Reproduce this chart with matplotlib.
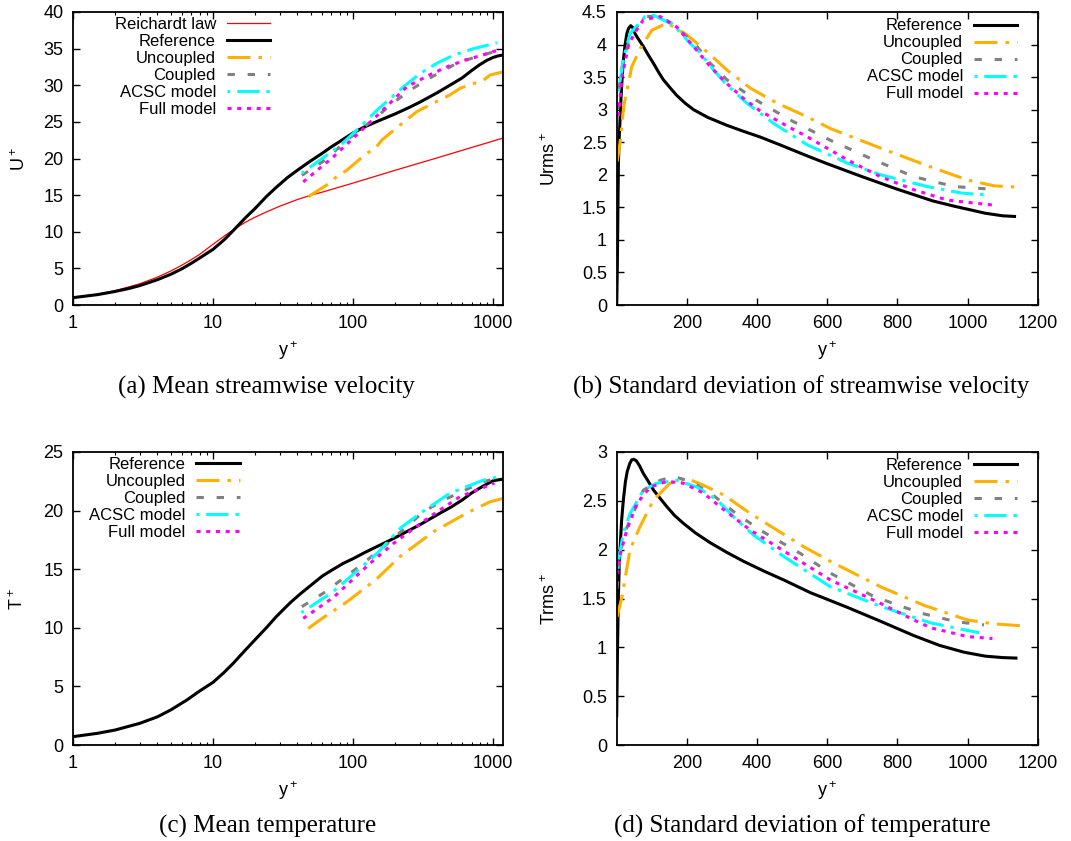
import matplotlib
matplotlib.use("Agg")
import matplotlib.pyplot as plt
from matplotlib.ticker import FixedLocator, NullFormatter, FormatStrFormatter, LogLocator

plt.rcParams['font.family'] = ['Liberation Sans', 'DejaVu Sans']
plt.rcParams['mathtext.fontset'] = 'custom'
plt.rcParams['mathtext.rm'] = 'Liberation Sans'
plt.rcParams['mathtext.default'] = 'regular'
plt.rcParams['lines.scale_dashes'] = False
plt.rcParams['font.size'] = 12

# (a) mean streamwise velocity, log y+
a_reich_y = [1, 1.5, 2, 3, 4, 5, 6, 7, 8, 10, 12, 14, 17, 20, 24, 30, 40, 50, 60, 100, 200, 400, 700, 1180]
a_reich_u = [1.0, 1.47, 1.95, 2.9, 3.8, 4.65, 5.45, 6.2, 6.9, 8.3, 9.4, 10.3, 11.3, 12.0, 12.7, 13.5, 14.4, 15.0, 15.4,
             16.65, 18.4, 20.1, 21.5, 22.8]
a_ref_y = [1, 1.5, 2, 2.5, 3, 4, 5, 6, 7, 8, 10, 12, 14, 17, 20, 24, 28, 34, 40, 50, 60, 70, 80, 100, 120, 150, 200,
           250, 300, 400, 500, 600, 700, 800, 900, 1000, 1080, 1150]
a_ref_u = [1.0, 1.42, 1.85, 2.25, 2.65, 3.45, 4.2, 4.95, 5.7, 6.4, 7.6, 8.9, 10.2, 11.9, 13.2, 14.8, 16.0, 17.4, 18.4,
           19.7, 20.7, 21.6, 22.3, 23.5, 24.3, 25.1, 26.1, 26.95, 27.7, 29.0, 30.1, 31.0, 32.0, 32.8, 33.4, 33.8, 34.0,
           34.1]
a_unc_y = [48, 65, 76, 90, 125, 144, 160, 217, 285, 396, 493, 581, 853, 952, 1186]
a_unc_u = [14.8, 16.4, 17.5, 18.4, 20.7, 21.4, 22.5, 24.6, 26.4, 27.8, 28.7, 29.6, 30.7, 31.4, 31.85]
a_cou_y = [43, 61, 100, 140, 184, 250, 318, 430, 550, 760, 1122]
a_cou_u = [17.7, 19.6, 23.2, 25.3, 27.3, 29.2, 30.5, 31.9, 33.0, 33.9, 34.8]
a_acsc_y = [43, 81, 112, 148, 229, 300, 396, 520, 724, 1062]
a_acsc_u = [18.0, 21.8, 24.3, 26.6, 29.8, 31.6, 33.0, 34.1, 35.0, 35.8]
a_full_y = [44, 72, 133, 242, 350, 466, 620, 800, 1122]
a_full_u = [16.8, 20.2, 25.0, 29.8, 31.4, 32.5, 33.4, 34.0, 34.9]

# (b) streamwise rms, linear y+
b_ref_y = [0, 1, 2, 3, 4, 5, 7, 9.5, 12, 15, 19, 24, 29, 34, 40, 46, 52, 60, 76, 90, 105, 120, 133, 150, 171, 195,
           219, 260, 314, 360, 409, 470, 543, 600, 700, 799, 900, 960, 1001, 1050, 1100, 1134]
b_ref_u = [0, 0.3, 0.7, 1.2, 1.75, 2.2, 2.55, 2.84, 3.15, 3.45, 3.76, 4.0, 4.17, 4.25, 4.29, 4.26, 4.17, 4.1, 3.97,
           3.84, 3.71, 3.57, 3.46, 3.35, 3.22, 3.1, 3.0, 2.88, 2.76, 2.67, 2.58, 2.45, 2.29, 2.17, 1.97, 1.78, 1.6,
           1.52, 1.47, 1.41, 1.37, 1.36]
b_unc_y = [1, 9.5, 20, 43, 67, 100, 143, 200, 257, 314, 381, 457, 543, 609, 752, 895, 1000, 1076, 1143]
b_unc_u = [2.2, 2.49, 3.05, 3.66, 3.94, 4.22, 4.33, 4.15, 3.89, 3.61, 3.33, 3.1, 2.89, 2.71, 2.41, 2.12, 1.92, 1.83, 1.81]
b_cou_y = [3, 10, 20, 38, 57, 86, 124, 171, 229, 267, 314, 390, 495, 609, 724, 847, 962, 1062]
b_cou_u = [3.0, 3.5, 3.8, 4.07, 4.27, 4.43, 4.44, 4.27, 3.97, 3.71, 3.46, 3.17, 2.84, 2.53, 2.25, 1.97, 1.82, 1.78]
b_acsc_y = [5, 20, 38, 81, 105, 162, 209, 238, 276, 314, 371, 447, 543, 657, 752, 885, 981, 1056]
b_acsc_u = [3.28, 3.8, 4.17, 4.43, 4.45, 4.3, 4.02, 3.87, 3.61, 3.38, 3.1, 2.79, 2.46, 2.18, 2.0, 1.82, 1.72, 1.69]
b_full_y = [5, 15, 33, 48, 76, 124, 171, 219, 267, 314, 362, 409, 495, 538, 657, 752, 847, 943, 1081]
b_full_u = [2.9, 3.5, 3.97, 4.15, 4.38, 4.43, 4.27, 3.97, 3.66, 3.4, 3.17, 2.98, 2.72, 2.6, 2.23, 1.97, 1.77, 1.61, 1.53]

# (c) mean temperature, log y+
c_ref_y = [1, 1.5, 2, 3, 4, 5, 6.5, 8, 10, 12, 14, 17, 20, 24, 28, 32, 36, 42, 52, 60, 70, 85, 100, 120, 146, 175,
           200, 250, 300, 420, 500, 600, 700, 850, 1000, 1150]
c_ref_t = [0.71, 1.0, 1.28, 1.85, 2.4, 3.0, 3.84, 4.6, 5.35, 6.2, 7.0, 8.1, 9.0, 10.0, 10.9, 11.6, 12.2, 12.9, 13.8,
           14.4, 14.9, 15.5, 15.9, 16.4, 16.9, 17.35, 17.7, 18.3, 18.8, 19.8, 20.3, 20.9, 21.5, 22.1, 22.55, 22.67]
c_unc_y = [47.7, 60, 90, 148, 217, 375, 649, 952, 1186]
c_unc_t = [9.94, 10.8, 12.2, 14.2, 16.1, 18.2, 19.8, 20.76, 21.05]
c_cou_y = [43, 61, 106, 165, 318, 442, 852, 1062]
c_cou_t = [11.8, 12.94, 15.07, 16.9, 19.9, 20.9, 22.47, 22.76]
c_acsc_y = [42.7, 70.4, 112, 148, 217, 301, 493, 851, 1062]
c_acsc_t = [11.3, 13.0, 15.07, 16.35, 18.5, 19.77, 21.5, 22.6, 22.84]
c_full_y = [44, 72.4, 132, 194, 355, 581, 952, 1020]
c_full_t = [10.8, 12.6, 15.5, 17.2, 19.5, 21.2, 22.2, 22.35]

# (d) temperature rms, linear y+
d_ref_y = [0, 1, 2, 3.5, 4.8, 7, 9.5, 14, 19, 25, 30, 37, 43, 49, 56, 65, 76, 90, 105, 125, 143, 165, 190, 225,
           267, 315, 362, 420, 476, 552, 657, 750, 847, 920, 990, 1050, 1100, 1138]
d_ref_t = [0.3, 0.6, 0.9, 1.25, 1.52, 1.8, 2.0, 2.3, 2.51, 2.7, 2.8, 2.88, 2.92, 2.925, 2.91, 2.86, 2.78, 2.7, 2.61,
           2.52, 2.44, 2.35, 2.27, 2.17, 2.07, 1.97, 1.88, 1.78, 1.69, 1.56, 1.41, 1.27, 1.12, 1.02, 0.95, 0.91, 0.895,
           0.89]
d_unc_y = [1, 14, 38, 67, 105, 152, 200, 247, 305, 381, 457, 533, 609, 752, 876, 1000, 1076, 1157]
d_unc_t = [1.31, 1.5, 2.0, 2.24, 2.51, 2.68, 2.73, 2.66, 2.56, 2.37, 2.2, 2.03, 1.88, 1.62, 1.43, 1.28, 1.24, 1.22]
d_cou_y = [1, 10, 20, 38, 76, 124, 162, 209, 267, 333, 409, 524, 609, 733, 867, 971, 1047]
d_cou_t = [1.6, 1.95, 2.15, 2.3, 2.61, 2.71, 2.75, 2.7, 2.58, 2.39, 2.2, 1.96, 1.76, 1.52, 1.35, 1.26, 1.23]
d_acsc_y = [1, 19, 38, 76, 114, 171, 229, 286, 343, 390, 476, 609, 752, 895, 990, 1033]
d_acsc_t = [1.8, 2.17, 2.37, 2.61, 2.68, 2.71, 2.64, 2.51, 2.3, 2.15, 1.93, 1.62, 1.42, 1.25, 1.18, 1.15]
d_full_y = [1, 10, 28.6, 57, 95, 143, 190, 247, 305, 381, 457, 533, 609, 752, 847, 895, 1000, 1071]
d_full_t = [1.75, 1.95, 2.2, 2.47, 2.64, 2.7, 2.68, 2.58, 2.41, 2.2, 2.03, 1.86, 1.69, 1.45, 1.28, 1.2, 1.11, 1.09]

names = ['Reference', 'Uncoupled', 'Coupled', 'ACSC model', 'Full model']
styles = [
    dict(color='black', lw=2.2, ls='-'),
    dict(color='#FFB000', lw=2.2, ls=(0, (16.5, 5.8, 2.5, 5.8))),
    dict(color='#808080', lw=2.2, ls=(0, (5.3, 9.2))),
    dict(color='#00FFFF', lw=2.2, ls=(21.5, (16, 5, 2.5, 5))),
    dict(color='#FF00FF', lw=2.2, ls=(0, (2.9, 4.1))),
]

fig = plt.figure(figsize=(10.71, 8.41), dpi=100)
W, H = 1071, 841


def add_axes(l, r, t, b):
    return fig.add_axes([l / W, 1 - b / H, (r - l) / W, (b - t) / H])


ax_a = add_axes(73, 503.3, 12, 305)
ax_b = add_axes(616.7, 1037.7, 12, 305)
ax_c = add_axes(73, 503.3, 452, 745)
ax_d = add_axes(616.7, 1037.7, 452, 745)


def style_axis(ax, logx, ylim, ystep, ylabel, ylab_x):
    for s in ax.spines.values():
        s.set_linewidth(1.3)
    ax.tick_params(which='major', direction='in', top=True, right=True, length=5, width=1, labelsize=13, pad=7)
    ax.tick_params(which='minor', direction='in', top=True, right=True, length=2.5, width=0.8)
    if logx:
        ax.set_xscale('log')
        ax.set_xlim(1, 1180)
        ax.xaxis.set_major_locator(FixedLocator([1, 10, 100, 1000]))
        ax.xaxis.set_major_formatter(FormatStrFormatter('%g'))
        ax.xaxis.set_minor_locator(LogLocator(subs=range(2, 10)))
        ax.xaxis.set_minor_formatter(NullFormatter())
    else:
        ax.set_xlim(0, 1200)
        ax.set_xticks([200, 400, 600, 800, 1000, 1200])
    ax.set_ylim(*ylim)
    n = int(round((ylim[1] - ylim[0]) / ystep))
    ax.set_yticks([ylim[0] + i * ystep for i in range(n + 1)])
    ax.yaxis.set_major_formatter(FormatStrFormatter('%g'))
    ax.set_xlabel('y$^+$', fontsize=13)
    ax.xaxis.set_label_coords(0.5, -0.118)
    ax.set_ylabel(ylabel, fontsize=13)
    ax.yaxis.set_label_coords(ylab_x, 0.5)


# panel a
ax_a.plot(a_reich_y, a_reich_u, color='red', lw=0.9, label='Reichardt law')
for (x, y), nm, st in zip([(a_ref_y, a_ref_u), (a_unc_y, a_unc_u), (a_cou_y, a_cou_u),
                           (a_acsc_y, a_acsc_u), (a_full_y, a_full_u)], names, styles):
    ax_a.plot(x, y, label=nm, **st)
style_axis(ax_a, True, (0, 40), 5, 'U$^+$', -0.102)

# panel b
for (x, y), nm, st in zip([(b_ref_y, b_ref_u), (b_unc_y, b_unc_u), (b_cou_y, b_cou_u),
                           (b_acsc_y, b_acsc_u), (b_full_y, b_full_u)], names, styles):
    ax_b.plot(x, y, label=nm, **st)
style_axis(ax_b, False, (0, 4.5), 0.5, 'Urms$^+$', -0.137)

# panel c
for (x, y), nm, st in zip([(c_ref_y, c_ref_t), (c_unc_y, c_unc_t), (c_cou_y, c_cou_t),
                           (c_acsc_y, c_acsc_t), (c_full_y, c_full_t)], names, styles):
    ax_c.plot(x, y, label=nm, **st)
style_axis(ax_c, True, (0, 25), 5, 'T$^+$', -0.108)

# panel d
for (x, y), nm, st in zip([(d_ref_y, d_ref_t), (d_unc_y, d_unc_t), (d_cou_y, d_cou_t),
                           (d_acsc_y, d_acsc_t), (d_full_y, d_full_t)], names, styles):
    ax_d.plot(x, y, label=nm, **st)
style_axis(ax_d, False, (0, 3), 0.5, 'Trms$^+$', -0.137)

leg_kw = dict(frameon=False, markerfirst=False, loc='upper right', fontsize=12,
              handlelength=2.6, handletextpad=0.65, labelspacing=0.12,
              borderpad=0, borderaxespad=0)
ax_a.legend(bbox_to_anchor=(0.458, 0.983), **leg_kw)
ax_b.legend(bbox_to_anchor=(0.951, 0.978), **leg_kw)
ax_c.legend(bbox_to_anchor=(0.387, 0.983), **leg_kw)
ax_d.legend(bbox_to_anchor=(0.951, 0.98), **leg_kw)

cap_kw = dict(ha='center', va='center', fontsize=18, family='Liberation Serif')
fig.text(0.249, 1 - 387 / H, '(a) Mean streamwise velocity', **cap_kw)
fig.text(0.748, 1 - 387 / H, '(b) Standard deviation of streamwise velocity', **cap_kw)
fig.text(0.25, 1 - 826 / H, '(c) Mean temperature', **cap_kw)
fig.text(0.749, 1 - 826 / H, '(d) Standard deviation of temperature', **cap_kw)

fig.savefig('out.png', dpi=100)
